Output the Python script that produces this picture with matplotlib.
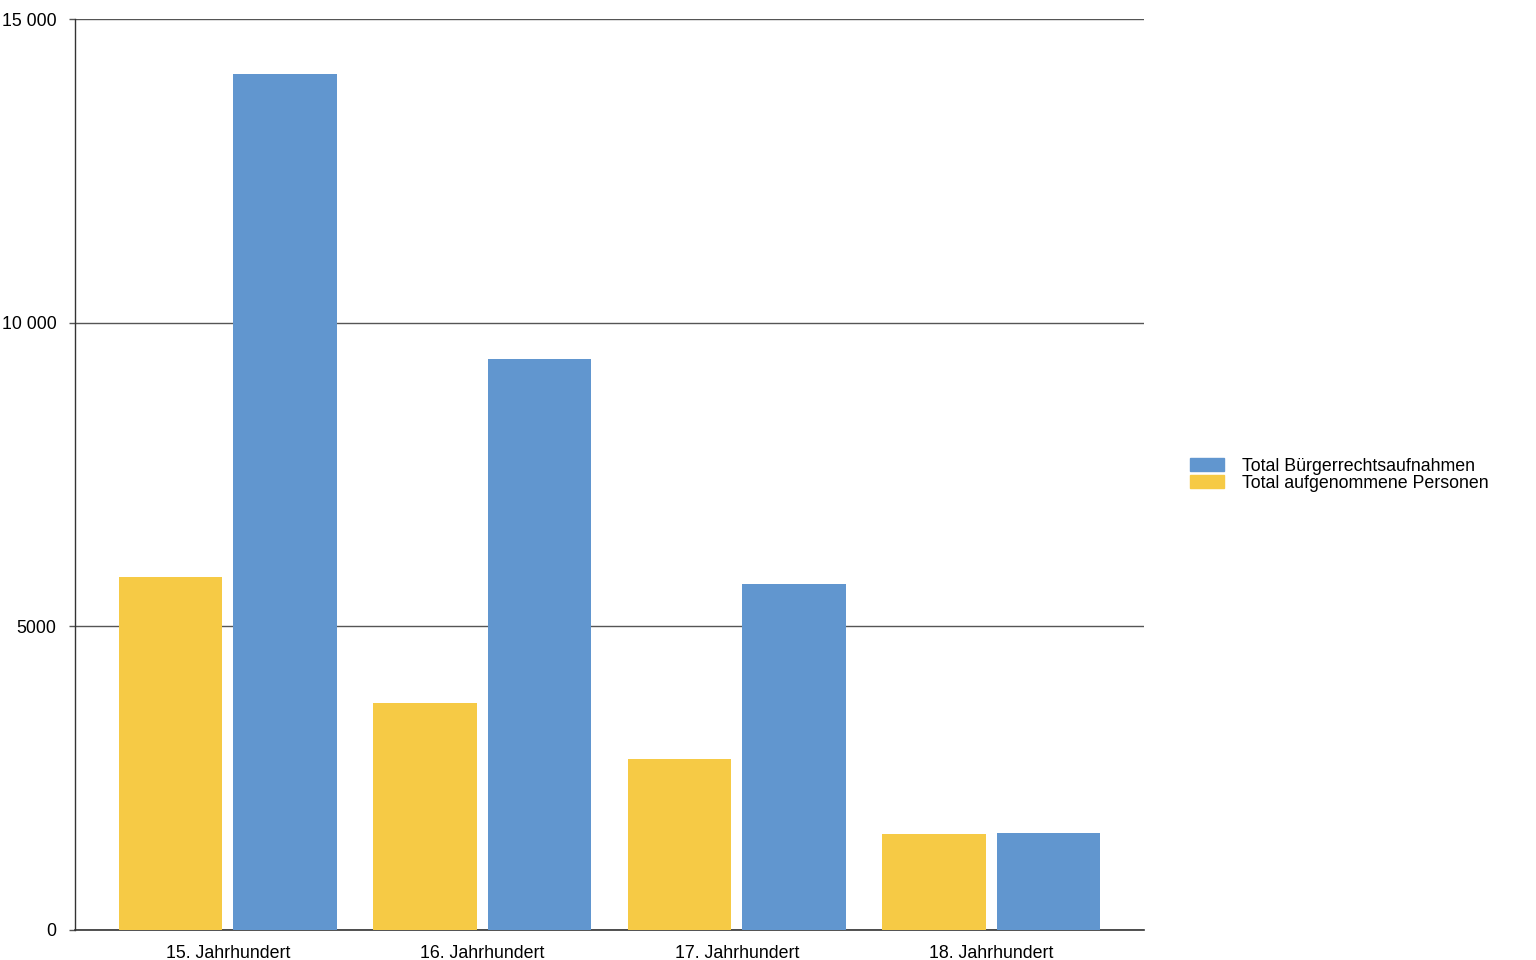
import matplotlib
matplotlib.use("Agg")
import matplotlib.pyplot as plt
import numpy as np
from matplotlib.patches import Patch

categories = ["15. Jahrhundert", "16. Jahrhundert", "17. Jahrhundert", "18. Jahrhundert"]
personen = [5810, 3740, 2810, 1580]
aufnahmen = [14090, 9400, 5700, 1600]
yticks = [0, 5000, 10000, 15000]
ytick_labels = ["0", "5000", "10 000", "15 000"]

plt.rcParams['font.family'] = ['Liberation Sans', 'DejaVu Sans']

fig = plt.figure(figsize=(15.36, 9.6), dpi=100)
ax = fig.add_axes([75/1536, 30/960, (1144-75)/1536, (930-19)/960])

x = np.arange(len(categories))
w = 0.405
off = 0.225
yellow = "#f6ca45"
blue = "#6196cf"
ax.bar(x - off, personen, w, color=yellow, zorder=3)
ax.bar(x + off, aufnahmen, w, color=blue, zorder=3)

ax.set_xlim(-0.6, 3.6)
ax.set_ylim(0, 15000)
ax.set_yticks(yticks)
ax.set_yticklabels(ytick_labels)
ax.set_xticks(x)
ax.set_xticklabels(categories)
ax.yaxis.grid(True, color="#555555", linewidth=1, zorder=0)
ax.set_axisbelow(True)
for s in ["top", "right"]:
    ax.spines[s].set_visible(False)
ax.spines["left"].set_color("#333333")
ax.spines["bottom"].set_color("#333333")
ax.spines["left"].set_linewidth(1)
ax.spines["bottom"].set_linewidth(1.2)
ax.tick_params(axis="y", length=4.3, width=1, color="#555555", pad=9, labelsize=12.8)
ax.tick_params(axis="x", length=0, pad=11, labelsize=12.8)

handles = [Patch(color=blue, label="Total Bürgerrechtsaufnahmen"),
           Patch(color=yellow, label="Total aufgenommene Personen")]
fig.legend(handles=handles, loc="center left", bbox_to_anchor=(1190/1536, 1-475/960),
           frameon=False, fontsize=12.8, handlelength=1.9, handleheight=0.75,
           handletextpad=1.0, labelspacing=0.02, borderpad=0, borderaxespad=0)

fig.savefig("out.png", dpi=100)
